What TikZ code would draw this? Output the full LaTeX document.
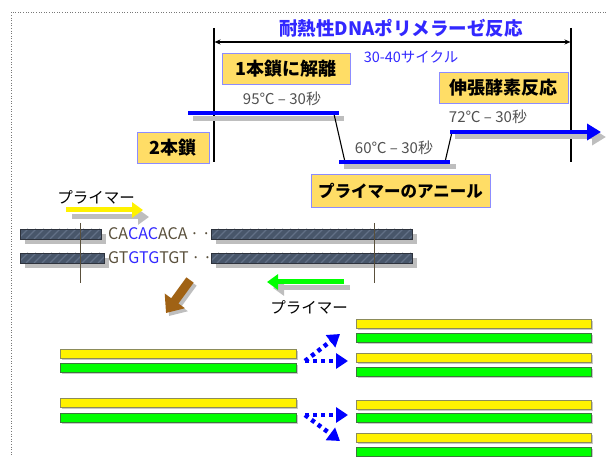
\documentclass[tikz,border=0pt]{standalone}
\usepackage{fontspec}
\setmainfont{Noto Sans CJK JP}
\usetikzlibrary{arrows.meta}
\definecolor{boxfill}{RGB}{255,221,102}
\definecolor{boxedge}{RGB}{140,140,255}
\definecolor{pblue}{RGB}{0,0,255}
\definecolor{titleblue}{RGB}{50,40,255}
\definecolor{tempgray}{RGB}{80,80,80}
\definecolor{shgray}{RGB}{190,190,190}
\definecolor{shlight}{RGB}{200,200,200}
\definecolor{seqgray}{RGB}{90,80,60}
\definecolor{dnafill}{RGB}{72,86,106}
\definecolor{dnaedge}{RGB}{45,50,60}
\definecolor{dnahatch}{RGB}{98,112,134}
\definecolor{yedge}{RGB}{140,140,90}
\definecolor{gedge}{RGB}{60,120,60}
\definecolor{brownarrow}{RGB}{160,98,20}
\definecolor{framegray}{RGB}{120,120,120}
\begin{document}
\begin{tikzpicture}[x=1pt,y=-1pt,
  lbox/.style={draw=boxedge,line width=0.9pt,fill=boxfill,inner sep=0pt,font=\fontsize{18}{19}\selectfont\bfseries},
  temp/.style={text=tempgray,font=\fontsize{15}{16}\selectfont,inner sep=0pt},
  bluebar/.style={draw=pblue,line width=4.5pt},
  shbar/.style={draw=shgray,line width=5pt},
  blk/.style={draw=black,line width=1.1pt},
  seq/.style={text=seqgray,font=\fontsize{16}{17}\selectfont,anchor=west,inner sep=0pt},
  dna/.style={draw=dnaedge,fill=dnafill,line width=0.6pt},
  ybar/.style={draw=yedge,fill=yellow,line width=0.8pt},
  gbar/.style={draw=gedge,fill=green,line width=0.8pt},
  dotarrow/.style={draw=pblue,line width=4.5pt,dash pattern=on 4pt off 4pt,-{Triangle[length=12pt,width=15pt]}},
  primtxt/.style={font=\fontsize{15.5}{16}\selectfont,inner sep=0pt},
]
\useasboundingbox (0,0) rectangle (606,457);
% frame
\draw[framegray,dotted,line width=0.6pt] (606,12) -- (11,12) -- (11,457);

% title and cycle range
\node[text=titleblue,font=\fontsize{18.5}{19}\selectfont\bfseries,inner sep=0pt] (title) at (401,28) {耐熱性DNAポリメラーゼ反応};
\coordinate (vlt) at (214,28); \coordinate (vlb) at (214,162);
\coordinate (vrt) at (571,28); \coordinate (vrb) at (571,162);
\draw[blk] (vlt) -- (vlb);
\draw[blk] (vrt) -- (vrb);
\coordinate (da) at (214.5,42); \coordinate (db) at (570.5,42);
\draw[blk,{Stealth[length=6pt,width=5pt]}-{Stealth[length=6pt,width=5pt]}] (da) -- (db);
\node[text=titleblue,font=\fontsize{14.5}{15}\selectfont,inner sep=0pt] (cyc) at (411,57) {30-40サイクル};

% temperature profile
\coordinate (p1) at (188,113); \coordinate (p2) at (339,113);
\coordinate (p3) at (339,162); \coordinate (p4) at (450,162);
\coordinate (p5) at (450,132); \coordinate (p6) at (601,132);
\draw[shbar] (193,119) -- (344,119);
\draw[shbar] (344,167) -- (456,167);
\draw[shbar,-{Triangle[length=14pt,width=16pt]}] (455,137) -- (606,137);
\draw[blk] (334,114) -- (345,162);
\draw[blk] (445,162) -- (452,132);
\draw[bluebar] (p1) -- (p2);
\draw[bluebar] (p3) -- (p4);
\draw[bluebar,-{Triangle[length=14pt,width=16pt]}] (p5) -- (p6);

\node[temp] (t95) at (282,99) {95℃ – 30秒};
\node[temp] (t60) at (394,148) {60℃ – 30秒};
\node[temp] (t72) at (488,117) {72℃ – 30秒};

\node[lbox,minimum width=128pt,minimum height=31pt] (b1) at (286,68.5) {1本鎖に解離};
\node[lbox,minimum width=129pt,minimum height=31pt] (b2) at (503.5,87.5) {伸張酵素反応};
\node[lbox,minimum width=72pt,minimum height=31pt] (b3) at (173,147.5) {2本鎖};
\node[lbox,minimum width=179pt,minimum height=33pt,font=\fontsize{16.5}{18}\selectfont\bfseries] (b4) at (400.5,190.5) {プライマーのアニール};

% primers
\node[primtxt] (prim1) at (96,197) {プライマー};
\draw[shgray,line width=5pt,-{Triangle[length=11pt,width=15pt]}] (72,217) -- (149,217);
\draw[yellow,line width=5pt,-{Triangle[length=11pt,width=15pt]}] (66,210) -- (143,210);

\node[primtxt] (prim2) at (309,307) {プライマー};
\draw[shgray,line width=5pt,-{Triangle[length=11pt,width=15pt]}] (350,288) -- (273,288);
\draw[green,line width=5pt,-{Triangle[length=11pt,width=15pt]}] (344,282) -- (267,282);

% DNA template bars
\foreach \xa/\xb/\yy in {20/101/229,211/412/229,20/104/253,211/412/253}{
  \fill[shgray] (\xa+5,\yy+5) rectangle (\xb+5,\yy+15);
  \fill[dnafill] (\xa,\yy) rectangle (\xb,\yy+10);
  \begin{scope}
    \clip (\xa,\yy) rectangle (\xb,\yy+10);
    \foreach \k in {0,8,...,400}{
      \draw[dnahatch,line width=1.2pt] (\xa+\k-10,\yy+10) -- (\xa+\k,\yy);
    }
  \end{scope}
  \draw[dnaedge,line width=0.6pt] (\xa,\yy) rectangle (\xb,\yy+10);
}
\draw[seqgray,line width=0.9pt] (80,223) -- (80,283);
\draw[seqgray,line width=0.9pt] (374,223) -- (374,283);
\node[seq] (s1) at (108,234) {CA\textcolor{titleblue}{CAC}ACA\,·\,·};
\node[seq] (s2) at (108,258) {GT\textcolor{titleblue}{GTG}TGT\,·\,·};

% brown arrow
\coordinate (bt) at (190,280); \coordinate (bh) at (166,313);
\draw[shgray,line width=9pt,-{Triangle[length=15pt,width=24pt]}] (193,283) -- (169,316);
\draw[brownarrow,line width=9pt,-{Triangle[length=15pt,width=24pt]}] (bt) -- (bh);

% product bars
\foreach \yy/\st in {349/ybar,363/gbar,398/ybar,413/gbar}{
  \fill[shlight] (62,\yy+2) rectangle (298,\yy+11);
  \draw[\st] (60,\yy) rectangle (296,\yy+9);
}
\foreach \yy/\st in {319/ybar,333/gbar,353/ybar,367/gbar,400/ybar,413/gbar,433/ybar,447/gbar}{
  \fill[shlight] (358,\yy+2) rectangle (593,\yy+11);
  \draw[\st] (356,\yy) rectangle (591,\yy+9);
}

% dotted blue arrows
\coordinate (oa) at (305,361); \coordinate (ta1) at (348,361); \coordinate (ta2) at (340,334);
\coordinate (ob) at (305,415); \coordinate (tb1) at (348,415); \coordinate (tb2) at (340,441);
\draw[dotarrow] (oa) -- (ta1);
\draw[dotarrow] (oa) -- (ta2);
\draw[dotarrow] (ob) -- (tb1);
\draw[dotarrow] (ob) -- (tb2);
\end{tikzpicture}
\end{document}
